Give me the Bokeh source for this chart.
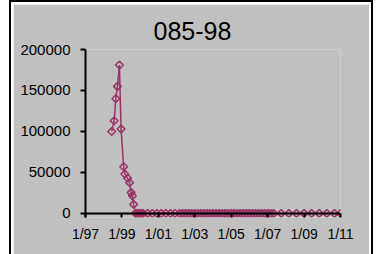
import numpy as np
import pandas as pd
from bokeh.plotting import figure
from bokeh.models import FixedTicker, Range1d, Span, BasicTickFormatter
from bokeh.embed import file_html
from bokeh.resources import INLINE

# ---------------- data ----------------
title_text = "085-98"

dates = [
    "1998-06-10", "1998-07-30", "1998-09-01", "1998-10-03", "1998-11-12",
    "1998-12-15", "1999-02-05", "1999-02-28", "1999-04-25", "1999-06-05",
    "1999-07-05", "1999-07-30", "1999-08-25", "1999-10-01",
    "1999-11-01", "1999-12-01", "2000-01-01", "2000-02-01", "2000-03-01",
    "2000-06-01", "2000-09-01", "2000-12-01", "2001-03-01", "2001-06-01",
    "2001-09-01", "2001-12-01", "2002-03-01",
    "2002-05-01", "2002-07-01", "2002-09-01", "2002-11-01",
    "2003-01-01", "2003-03-01", "2003-05-01", "2003-07-01", "2003-09-01", "2003-11-01",
    "2004-01-01", "2004-03-01", "2004-05-01", "2004-07-01", "2004-09-01", "2004-11-01",
    "2005-01-01", "2005-03-01", "2005-05-01", "2005-07-01", "2005-09-01", "2005-11-01",
    "2006-01-01", "2006-03-01", "2006-05-01", "2006-07-01", "2006-09-01", "2006-11-01",
    "2007-01-01", "2007-03-01", "2007-05-01",
    "2007-10-01", "2008-03-01", "2008-08-01", "2009-01-01", "2009-06-01",
    "2009-11-01", "2010-04-01", "2010-09-01", "2011-01-01",
]

values = [
    100000, 113000, 140000, 155000, 181000,
    103000, 57000, 48000, 43000, 37500,
    25500, 21500, 11000, 0,
    0, 0, 0, 0, 0,
    0, 0, 0, 0, 0,
    0, 0, 0,
    0, 0, 0, 0,
    0, 0, 0, 0, 0, 0,
    0, 0, 0, 0, 0, 0,
    0, 0, 0, 0, 0, 0,
    0, 0, 0, 0, 0, 0,
    0, 0, 0,
    0, 0, 0, 0, 0,
    0, 0, 0, 0,
]

x_tick_dates = ["1997-01-01", "1999-01-01", "2001-01-01", "2003-01-01",
                "2005-01-01", "2007-01-01", "2009-01-01", "2011-01-01"]
x_tick_labels = ["1/97", "1/99", "1/01", "1/03", "1/05", "1/07", "1/09", "1/11"]
y_ticks = [0, 50000, 100000, 150000, 200000]

# ---------------- helpers ----------------
def ms(d):
    return int(pd.Timestamp(d).value // 10**6)

xs = [ms(d) for d in dates]
xt = [ms(d) for d in x_tick_dates]

COLOR = "#993366"
BG = "#C0C0C0"
FONT = "Liberation Sans"

p = figure(
    width=356, height=250,
    x_range=Range1d(ms("1997-01-01"), ms("2011-01-01")),
    y_range=Range1d(-5000, 200000),
    output_backend="svg", toolbar_location=None,
    min_border_left=72, min_border_right=29,
    min_border_top=45, min_border_bottom=37,
    title=title_text,
)
p.styles = {"margin-left": "13px", "margin-top": "4px",
            "outline": "2px solid black", "outline-offset": "2px"}
p.background_fill_color = BG
p.border_fill_color = BG
p.outline_line_color = None
p.grid.visible = False

p.title.text_font = FONT
p.title.text_font_size = "25px"
p.title.text_font_style = "normal"
p.title.text_color = "black"
p.title.align = "left"
p.title.offset = 68
p.title.standoff = 19

# zero line acting as the x axis line
p.add_layout(Span(location=0, dimension="width", line_color="black", line_width=2))

p.line(xs, values, line_color=COLOR, line_width=1.5)
p.scatter(xs, values, marker="square", angle=np.pi / 4, size=5.5,
          fill_color=None, line_color=COLOR, line_width=1.5)

# x axis (ticks hang below the zero line, down to the frame edge)
xa = p.xaxis[0]
xa.ticker = FixedTicker(ticks=xt)
xa.major_label_overrides = {t: lab for t, lab in zip(xt, x_tick_labels)}
xa.axis_line_color = None
xa.major_tick_line_width = 2
xa.major_tick_line_color = "black"
xa.major_tick_in = 4
xa.major_tick_out = 0
xa.minor_tick_line_color = None
xa.major_label_text_font = FONT
xa.major_label_text_font_size = "14px"
xa.major_label_text_color = "black"
xa.major_label_standoff = 8

# y axis
ya = p.yaxis[0]
ya.ticker = FixedTicker(ticks=y_ticks)
ya.formatter = BasicTickFormatter(use_scientific=False)
ya.axis_line_width = 2
ya.axis_line_color = "black"
ya.major_tick_line_width = 2
ya.major_tick_in = 0
ya.major_tick_out = 5
ya.minor_tick_line_color = None
ya.major_label_text_font = FONT
ya.major_label_text_font_size = "15px"
ya.major_label_text_color = "black"
ya.major_label_standoff = 10

open("out.html", "w").write(file_html(p, INLINE))
